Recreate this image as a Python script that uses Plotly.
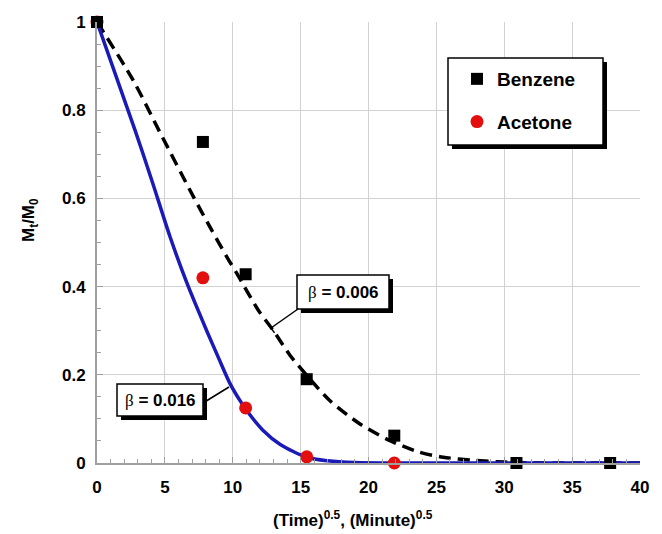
import plotly.graph_objects as go

# ---- data ----
benzene_x = [0, 7.8, 10.95, 15.45, 21.9, 30.9, 37.8]
benzene_y = [1.0, 0.728, 0.428, 0.19, 0.062, 0.0, 0.0]

acetone_x = [0, 7.8, 10.95, 15.45, 21.9]
acetone_y = [1.0, 0.42, 0.125, 0.014, 0.0]

# fitted curve beta = 0.006 (benzene), dashed
fit006_x = [0, 2.66, 4.6, 7.1, 8.45, 9.55, 10.3, 11.87, 13, 14.2, 15.5, 17.2,
            19.4, 21.5, 23.6, 25.5, 27.7, 30, 33, 40]
fit006_y = [1.0, 0.868, 0.752, 0.604, 0.528, 0.468, 0.43, 0.347, 0.30, 0.245,
            0.197, 0.14, 0.088, 0.052, 0.026, 0.013, 0.006, 0.002, 0.0, 0.0]

# fitted curve beta = 0.016 (acetone), solid blue
fit016_x = [0, 2.8, 4.1, 5.38, 6.6, 8.08, 9.0, 9.8, 10.5, 11, 12.2, 13.5, 15.45,
            17, 19, 22, 30, 40]
fit016_y = [1.0, 0.755, 0.635, 0.513, 0.41, 0.30, 0.235, 0.18, 0.143, 0.12, 0.075,
            0.042, 0.013, 0.005, 0.001, 0.0, 0.0, 0.0]

x_ticks = [0, 5, 10, 15, 20, 25, 30, 35, 40]
y_ticks = [0, 0.2, 0.4, 0.6, 0.8, 1]

FONT = "Liberation Sans, Arial, sans-serif"

fig = go.Figure()
fig.add_trace(go.Scatter(x=fit006_x, y=fit006_y, mode="lines",
                         line=dict(color="black", width=3.5, dash="12px,7px",
                                   shape="spline", smoothing=0.8),
                         showlegend=False, hoverinfo="skip"))
fig.add_trace(go.Scatter(x=fit016_x, y=fit016_y, mode="lines",
                         line=dict(color="#1a1ab8", width=3.5,
                                   shape="spline", smoothing=0.8),
                         showlegend=False, hoverinfo="skip"))
fig.add_trace(go.Scatter(x=acetone_x, y=acetone_y, mode="markers", name="Acetone",
                         marker=dict(symbol="circle", size=13, color="#e30f0f"),
                         legendrank=2, legendgroup="a", cliponaxis=False))
fig.add_trace(go.Scatter(x=benzene_x, y=benzene_y, mode="markers", name="Benzene",
                         marker=dict(symbol="square", size=12, color="black"),
                         legendrank=1, legendgroup="b", cliponaxis=False))

axis_common = dict(
    showgrid=True, gridcolor="#d2d2d2", gridwidth=1,
    showline=True, linecolor="#a0a0a0", linewidth=2,
    ticks="inside", ticklen=6, tickcolor="#a0a0a0", tickwidth=1,
    zeroline=False,
    tickfont=dict(family=FONT, size=17, color="black", weight="bold"),
)
fig.update_xaxes(range=[0, 40], tickvals=x_ticks, ticklabelstandoff=8,
                 minor=dict(dtick=1, ticks="inside", ticklen=4, tickcolor="#a0a0a0",
                            showgrid=False),
                 **axis_common)
fig.update_yaxes(range=[0, 1], tickvals=y_ticks, ticklabelstandoff=6,
                 minor=dict(dtick=0.05, ticks="inside", ticklen=4, tickcolor="#a0a0a0",
                            showgrid=False),
                 **axis_common)

def px(X):
    return (X - 97) / 543

def py(Y):
    return (463 - Y) / 441

shapes = []
def box(x0, y0, x1, y1, off=4):
    shapes.append(dict(type="rect", xref="paper", yref="paper",
                       x0=px(x0 + off), x1=px(x1 + off), y0=py(y1 + off), y1=py(y0 + off),
                       fillcolor="black", line=dict(width=0), layer="above"))
    shapes.append(dict(type="rect", xref="paper", yref="paper",
                       x0=px(x0), x1=px(x1), y0=py(y1), y1=py(y0),
                       fillcolor="white", line=dict(color="black", width=1.5),
                       layer="above"))

def seg(x0, y0, x1, y1):
    shapes.append(dict(type="line", xref="paper", yref="paper",
                       x0=px(x0), x1=px(x1), y0=py(y0), y1=py(y1),
                       line=dict(color="black", width=1.5), layer="above"))

box(448, 58, 603, 145)          # legend box
box(297, 275, 389, 309)         # beta = 0.006
box(117, 384, 203, 416)         # beta = 0.016
seg(298, 309, 271, 328)         # leader 0.006
seg(267.5, 323.1, 274.5, 332.9) # T cap
seg(203, 403, 229, 387)         # leader 0.016

beta_tpl = ("<span style=\"font-family:'Liberation Serif';font-weight:normal\">β</span>"
            " = 0.0{}")

def label(text, X, Y, size=17, angle=0):
    return dict(text=text, xref="paper", yref="paper", x=px(X), y=py(Y),
                xanchor="center", yanchor="middle", showarrow=False, textangle=angle,
                font=dict(family=FONT, size=size, color="black", weight="bold"))

annotations = [
    label(beta_tpl.format("06"), 343, 292),
    label(beta_tpl.format("16"), 160, 400),
    label("(Time)<sup>0.5</sup>, (Minute)<sup>0.5</sup>", 353, 519, size=17),
    label("M<sub>t</sub>/M<sub>0</sub>", 30, 220, size=17, angle=-90),
]

fig.update_layout(
    width=662, height=534,
    margin=dict(l=97, r=22, t=22, b=71),
    plot_bgcolor="white", paper_bgcolor="white",
    shapes=shapes, annotations=annotations,
    showlegend=True,
    legend=dict(x=px(457), y=py(60), xanchor="left", yanchor="top",
                bgcolor="rgba(0,0,0,0)", borderwidth=0,
                traceorder="grouped", tracegroupgap=15,
                font=dict(family=FONT, size=19, color="black", weight="bold")),
)

fig.write_html("out.html")
